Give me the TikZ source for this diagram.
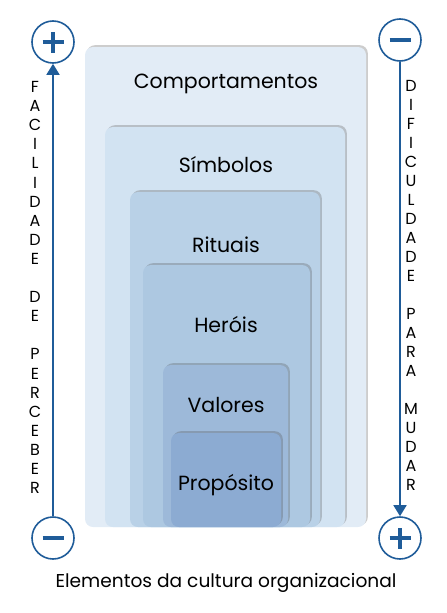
\documentclass[tikz,border=0pt]{standalone}
\usepackage{fontspec}
\setmainfont{Poppins}
\usetikzlibrary{shadows,arrows.meta,positioning}

\definecolor{capaA}{HTML}{E2ECF6}
\definecolor{capaB}{HTML}{D2E3F2}
\definecolor{capaC}{HTML}{B9D1E7}
\definecolor{capaD}{HTML}{ADC8E1}
\definecolor{capaE}{HTML}{9DB9D9}
\definecolor{capaF}{HTML}{8CABD2}
\definecolor{azul}{HTML}{1F5C99}

\begin{document}
\begin{tikzpicture}[x=1pt,y=-1pt,
    capa/.style={rounded corners=8pt,
      drop shadow={shadow xshift=1.8pt,shadow yshift=1.8pt,opacity=.28,fill=black!70}},
    rotulo/.style={font=\fontsize{20.5}{24}\selectfont,text=black},
    letra/.style={font=\fontsize{16}{18}\selectfont,inner sep=0pt},
    circ/.style={circle,draw=azul,line width=1.6pt,minimum size=42pt,inner sep=0pt},
    mais/.style={circ,path picture={
        \draw[azul,line width=3.6pt] (path picture bounding box.center) ++(-10.5pt,0) -- ++(21pt,0);
        \draw[azul,line width=3.6pt] (path picture bounding box.center) ++(0,-10.5pt) -- ++(0,21pt);}},
    menos/.style={circ,path picture={
        \draw[azul,line width=3.6pt] (path picture bounding box.center) ++(-10.5pt,0) -- ++(21pt,0);}},
    seta/.style={azul,line width=1.8pt,-{Triangle[width=13pt,length=11pt]}}]
  \useasboundingbox (0,0) rectangle (447,613);

  % camadas, da mais externa para a mais interna
  \foreach \xa/\ya/\xb/\cor in {85/47/366/capaA,105/127/345/capaB,130/192/320/capaC,
      143/265/310/capaD,163/365/288/capaE,171/433/281/capaF}
    \path[capa,fill=\cor] (\xa,\ya) rectangle (\xb,527);

  \foreach \txt [count=\i] in {Comportamentos,Símbolos,Rituais,Heróis,Valores,Propósito}
    \node[rotulo] (rot\i) at (226,{84+80.2*(\i-1)}) {\txt};

  % eixos laterais
  \node[mais] (maisE) at (53,42) {};
  \node[menos] (menosE) at (53,538) {};
  \node[menos] (menosD) at (400,40) {};
  \node[mais] (maisD) at (400,538) {};
  \draw[seta] (menosE) -- (maisE);
  \draw[seta] (menosD) -- (maisD);

  \foreach \l [count=\i] in {F,A,C,I,L,I,D,A,D,E,{},D,E,{},P,E,R,C,E,B,E,R}
    \node[letra] (esq\i) at (35,{87+19.1*(\i-1)}) {\l};
  \foreach \l [count=\i] in {D,I,F,I,C,U,L,D,A,D,E,{},P,A,R,A,{},M,U,D,A,R}
    \node[letra] (dir\i) at (411,{86+19*(\i-1)}) {\l};

  \node[rotulo,font=\fontsize{18.6}{22}\selectfont] (legenda) at (226,583) {Elementos da cultura organizacional};
\end{tikzpicture}
\end{document}
